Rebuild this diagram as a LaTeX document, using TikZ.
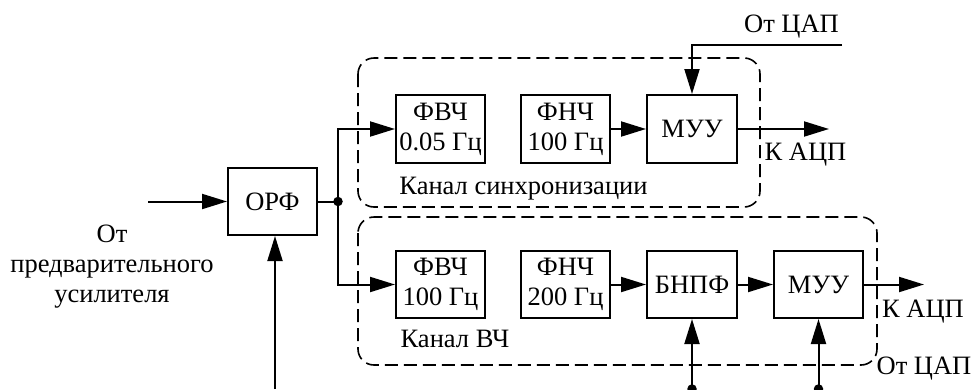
\documentclass[tikz,border=0pt]{standalone}
\usepackage{fontspec}
\setmainfont{Liberation Serif}
\usetikzlibrary{arrows.meta}
\begin{document}
\begin{tikzpicture}[x=1pt,y=-1pt,
  blk/.style={draw,line width=2pt,inner sep=0pt,align=center,font=\fontsize{26.5}{30}\selectfont},
  txt/.style={inner sep=0pt,anchor=base,font=\fontsize{26.5}{30}\selectfont},
  arr/.style={line width=2pt,-{Triangle[length=25pt,width=15pt]}},
  ln/.style={line width=2pt},
  grp/.style={draw,line width=1.6pt,dash pattern=on 13pt off 6pt,rounded corners=16pt},
  dot/.style={circle,fill,inner sep=0pt,minimum size=9.5pt}]
\useasboundingbox (0,0) rectangle (975,389);
% groups
\draw[grp] (358,58) rectangle (760,207);
\draw[grp] (358,217) rectangle (877,365);
% blocks
\node[blk,minimum width=89pt,minimum height=67pt] (orf) at (272.5,201.5) {ОРФ};
\node[blk,minimum width=89pt,minimum height=68pt] (hpf1) at (440.5,129) {ФВЧ\\0.05 Гц};
\node[blk,minimum width=89pt,minimum height=68pt] (lpf1) at (565.5,129) {ФНЧ\\100 Гц};
\node[blk,minimum width=90pt,minimum height=68pt] (muu1) at (692,129) {МУУ};
\node[blk,minimum width=89pt,minimum height=67pt] (hpf2) at (440.5,284.5) {ФВЧ\\100 Гц};
\node[blk,minimum width=89pt,minimum height=67pt] (lpf2) at (565.5,284.5) {ФНЧ\\200 Гц};
\node[blk,minimum width=90pt,minimum height=67pt] (bnpf) at (692,284.5) {БНПФ};
\node[blk,minimum width=89pt,minimum height=67pt] (muu2) at (818.5,284.5) {МУУ};
% texts
\node[txt] (tin1) at (112,242.5) {От};
\node[txt] (tin2) at (112,272.5) {предварительного};
\node[txt] (tin3) at (112,302.5) {усилителя};
\node[txt] (tsync) at (523.5,194.5) {Канал синхронизации};
\node[txt] (thf) at (455,347) {Канал ВЧ};
\node[txt] (kadc1) at (805.5,160.5) {К АЦП};
\node[txt] (kadc2) at (923,317.5) {К АЦП};
\node[txt] (dac1) at (791.5,32.5) {От ЦАП};
\node[txt] (dac2) at (924,374.5) {От ЦАП};
% coordinates
\coordinate (inL) at (148,201.5);
\coordinate (br) at (338,201.5);
\coordinate (dacA) at (842,45);
\coordinate (dacB) at (692,45);
\coordinate (out1) at (829,129);
\coordinate (out2) at (924,284.5);
\coordinate (b1) at (692,389);
\coordinate (b2) at (818.5,389);
\coordinate (b0) at (275,389);
% connectors
\draw[arr] (inL) -- (orf.west);
\draw[ln] (orf.east) -- (br);
\node[dot] (brdot) at (br) {};
\draw[arr] (br) |- (hpf1.west);
\draw[arr] (br) |- (hpf2.west);
\draw[arr] (lpf1) -- (muu1);
\draw[arr] (muu1.east) -- (out1);
\draw[arr] (dacA) -- (dacB) -- (muu1.north);
\draw[arr] (lpf2) -- (bnpf);
\draw[arr] (bnpf) -- (muu2);
\draw[arr] (muu2.east) -- (out2);
\draw[arr] (b0) -- (b0 |- orf.south);
\draw[arr] (b1) -- (bnpf.south);
\draw[arr] (b2) -- (muu2.south);
\node[dot] (d1) at (b1) {};
\node[dot] (d2) at (b2) {};
\end{tikzpicture}
\end{document}
